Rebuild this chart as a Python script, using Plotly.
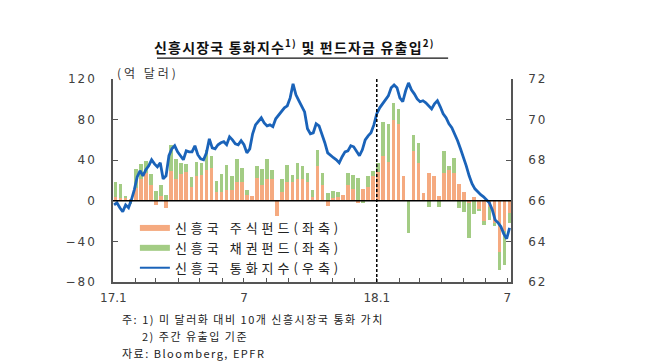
import plotly.graph_objects as go
import pandas as pd

# ---------------- data ----------------
week_dates = pd.date_range('2017-01-04', periods=79, freq='7D')
equity_flow = [4, 3, 3, 1, 13, 21, 27, 16, -4, 5, -7, 29, 21, 26, 28, 14, 24, 25, 30, 32,
               9, 9, 11, 11, 19, 19, 6, 5, 22, 16, 21, 21, -15, 9, 19, 19, 21, 21, 19, 4,
               34, 16, -5, 3, 4, 6, 16, 12, -2, 12, 14, 24, 28, 44, 38, 80, 76, 24, 0, 49,
               37, 8, 27, 24, 5, 27, 30, 27, 17, 9, -2, 4, -8, -20, -6, -22, -50, -30, -12]
bond_flow = [15, 14, 2, -3, 18, 15, 12, 10, 10, 11, 6, 26, 20, 11, 8, 9, 14, 12, 20, 12,
             11, 17, 24, 13, 22, 13, 5, 0, 12, 15, 20, 9, 0, 12, 16, 6, 16, 13, 8, 7,
             16, 11, 8, 7, 5, 0, 11, 13, 22, -2, 10, 5, 9, 34, 38, 16, 14, 0, -32, 16,
             20, 0, -6, 0, -6, 22, 4, 15, -7, -11, -35, -13, -2, -4, -13, -3, -18, -33, -10]

idx_dates = pd.date_range('2017-01-02', periods=138, freq='4D')
fx_index = [65.80, 65.90, 65.66, 65.46, 65.80, 65.66, 66.05, 66.54, 67.18, 67.48,
            67.23, 67.53, 67.72, 68.02, 67.82, 67.67, 67.87, 67.08, 67.23, 68.22,
            68.56, 68.71, 68.41, 68.22, 68.02, 68.46, 68.41, 68.41, 68.71, 68.27,
            68.07, 68.02, 68.36, 69.05, 68.61, 68.56, 68.76, 68.86, 68.91, 68.76,
            69.15, 69.00, 68.81, 68.76, 68.96, 68.76, 68.36, 68.56, 69.30, 69.74,
            69.89, 70.09, 69.84, 69.69, 69.74, 69.65, 70.04, 70.24, 70.43, 70.58,
            70.68, 71.07, 71.76, 71.22, 70.93, 70.63, 70.38, 69.55, 69.30, 69.35,
            69.79, 69.69, 69.30, 68.86, 68.36, 68.22, 68.12, 68.02, 67.87, 68.17,
            68.41, 68.46, 68.71, 68.66, 68.46, 68.22, 68.51, 69.00, 69.20, 69.35,
            69.74, 70.29, 70.58, 70.78, 70.93, 71.17, 71.57, 71.71, 71.57, 71.07,
            70.88, 71.42, 71.81, 71.47, 71.27, 71.02, 70.88, 70.93, 70.83, 70.68,
            70.53, 70.78, 70.93, 70.63, 70.29, 70.09, 69.79, 69.60, 69.30, 68.96,
            68.56, 68.17, 67.72, 67.23, 66.84, 66.59, 66.44, 66.30, 66.20, 66.05,
            65.90, 65.56, 65.06, 64.92, 64.72, 64.37, 64.13, 64.67]

x_tickvals = ['2017-01-01', '2017-07-01', '2018-01-01', '2018-07-01']
x_ticktext = ['17.1', '7', '18.1', '7']
left_tickvals = [-80, -40, 0, 40, 80, 120]
left_ticktext = ['−80', '−40', '0', '40', '80', '120']
right_tickvals = [62, 64, 66, 68, 70, 72]
right_ticktext = ['62', '64', '66', '68', '70', '72']

series_names = ['신흥국 주식펀드(좌축)', '신흥국 채권펀드(좌축)', '신흥국 통화지수(우축)']
title_text = '신흥시장국 통화지수<sup>1)</sup> 및 펀드자금 유출입<sup>2)</sup>'
unit_text = '(억 달러)'
notes = ['주: 1) 미 달러화 대비 10개 신흥시장국 통화 가치', '2) 주간 유출입 기준', '자료: Bloomberg, EPFR']

# ---------------- style ----------------
ORANGE = '#F5AA80'
GREEN = '#A3CC84'
BLUE = '#1A63B9'
AXIS = '#555555'
KFONT = 'Noto Sans CJK KR'
NFONT = 'DejaVu Sans'


def sp(t, ls):
    return f'<span style="letter-spacing:{ls}px">{t}</span>'


fig = go.Figure()
fig.add_bar(x=week_dates, y=equity_flow, marker=dict(color=ORANGE, line=dict(width=0)),
            width=5 * 86400000, showlegend=False, hoverinfo='skip')
fig.add_bar(x=week_dates, y=bond_flow, marker=dict(color=GREEN, line=dict(width=0)),
            width=5 * 86400000, showlegend=False, hoverinfo='skip')
fig.add_scatter(x=idx_dates, y=fx_index, yaxis='y2', mode='lines',
                line=dict(color=BLUE, width=2.8), showlegend=False)

for name, color, w in zip(series_names, [ORANGE, GREEN, BLUE], [6, 6, 2]):
    fig.add_scatter(x=[None], y=[None], mode='lines', line=dict(color=color, width=w),
                    name=sp(name, 4), showlegend=True)

# the page body adds an 8px offset, so the figure is sized to fit the remaining window
fig.update_layout(
    width=642, height=355,
    margin=dict(l=105, r=139, t=71, b=81),
    paper_bgcolor='white', plot_bgcolor='white',
    barmode='relative', bargap=0,
    font=dict(family=KFONT, color='#222222'),
    showlegend=True,
    legend=dict(x=0.055, y=0.34, xanchor='left', yanchor='top',
                bgcolor='rgba(0,0,0,0)', font=dict(size=13, family=KFONT, color='#222222'),
                itemwidth=30, tracegroupgap=0, traceorder='normal'),
    xaxis=dict(type='date', range=['2016-12-31 12:00', '2018-07-06'],
               tickmode='array', tickvals=x_tickvals, ticktext=x_ticktext,
               ticks='inside', ticklen=4, tickcolor=AXIS, tickwidth=1,
               minor=dict(ticks='inside', ticklen=4, dtick='M1', tick0='2017-01-01',
                          tickcolor=AXIS, showgrid=False),
               showline=True, linecolor=AXIS, linewidth=1.5, showgrid=False, zeroline=False,
               tickfont=dict(family=NFONT, size=12, color='#404040'), ticklabelstandoff=4),
    yaxis=dict(range=[-80, 120], tickmode='array', tickvals=left_tickvals,
               ticktext=[sp(t, 2) for t in left_ticktext],
               ticks='inside', ticklen=5, tickcolor=AXIS, showline=True, linecolor=AXIS,
               linewidth=1.5, showgrid=False, zeroline=False,
               tickfont=dict(family=NFONT, size=12, color='#404040'), ticklabelstandoff=12),
    yaxis2=dict(range=[62, 72], overlaying='y', side='right', tickmode='array',
                tickvals=right_tickvals, ticktext=[sp(t, 2) for t in right_ticktext],
                ticks='inside', ticklen=5, tickcolor=AXIS, showline=True, linecolor=AXIS,
                linewidth=1.5, showgrid=False, zeroline=False,
                tickfont=dict(family=NFONT, size=12, color='#404040'), ticklabelstandoff=13),
)

# zero line and 18.1 divider
fig.add_shape(type='line', xref='paper', x0=0, x1=1, yref='y', y0=0, y1=0,
              line=dict(color='black', width=1.5), layer='above')
fig.add_shape(type='line', xref='x', x0='2018-01-01', x1='2018-01-01', yref='paper', y0=0, y1=1,
              line=dict(color='black', width=1.5, dash='3px,2px'), layer='above')

# title + underline
fig.add_annotation(text='<b>' + sp(title_text, 1.2) + '</b>', xref='paper', yref='paper',
                   x=0.457, y=1.16, xanchor='center', yanchor='middle', showarrow=False,
                   font=dict(size=14, family=KFONT, color='#111111'))
fig.add_shape(type='line', xref='paper', yref='paper', x0=0.1106, x1=0.842, y0=1.103, y1=1.103,
              line=dict(color='#111111', width=1.2))

# unit label
fig.add_annotation(text=sp(unit_text, 3), xref='paper', yref='paper', x=0.005, y=1.03,
                   xanchor='left', yanchor='middle', showarrow=False,
                   font=dict(size=12, family=KFONT, color='#333333'))

# notes
note_pos = [(0.017, -0.18), (0.067, -0.265), (0.017, -0.35)]
for t, (nx, ny) in zip(notes, note_pos):
    fig.add_annotation(text=sp(t, 1.5), xref='paper', yref='paper', x=nx, y=ny,
                       xanchor='left', yanchor='middle', showarrow=False,
                       font=dict(size=11, family=KFONT, color='#222222'))

fig.write_html('out.html')
